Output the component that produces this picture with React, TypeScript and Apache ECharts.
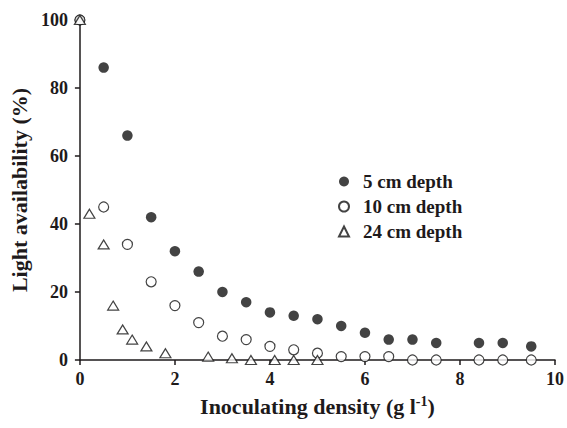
import React, { useEffect, useRef } from "react";
import * as echarts from "echarts";

const density5 = [0, 0.5, 1, 1.5, 2, 2.5, 3, 3.5, 4, 4.5, 5, 5.5, 6, 6.5, 7, 7.5, 8.4, 8.9, 9.5];
const light5 = [100, 86, 66, 42, 32, 26, 20, 17, 14, 13, 12, 10, 8, 6, 6, 5, 5, 5, 4];
const density10 = [0, 0.5, 1, 1.5, 2, 2.5, 3, 3.5, 4, 4.5, 5, 5.5, 6, 6.5, 7, 7.5, 8.4, 8.9, 9.5];
const light10 = [100, 45, 34, 23, 16, 11, 7, 6, 4, 3, 2, 1, 1, 1, 0, 0, 0, 0, 0];
const density24 = [0, 0.2, 0.5, 0.7, 0.9, 1.1, 1.4, 1.8, 2.7, 3.2, 3.6, 4.1, 4.5, 5.0];
const light24 = [100, 43, 34, 16, 9, 6, 4, 2, 1, 0.5, 0, 0, 0, 0];
const seriesNames = ["5 cm depth", "10 cm depth", "24 cm depth"];
const xTitle = "Inoculating density (g l";
const xTitleSup = "-1";
const xTitleEnd = ")";
const yTitle = "Light availability (%)";

const INK = "#1e1a1b";
const FONT = "'Liberation Serif', 'Times New Roman', serif";

const zip = (xs: number[], ys: number[]) => xs.map((x, i) => [x, ys[i]]);

export default function App() {
  const ref = useRef<HTMLDivElement>(null);
  useEffect(() => {
    if (!ref.current) return;
    const chart = echarts.init(ref.current, undefined, { renderer: "svg" });
    const axisCommon = {
      axisLine: { show: true, onZero: false, lineStyle: { color: INK, width: 1.5 } },
      axisTick: { show: true, length: 5, lineStyle: { color: INK, width: 1.5 } },
      splitLine: { show: false },
    };
    chart.setOption({
      animation: false,
      backgroundColor: "#ffffff",
      grid: { left: 77, right: 10, top: 20, bottom: 68, containLabel: false },
      xAxis: {
        type: "value",
        min: 0,
        max: 10,
        interval: 2,
        ...axisCommon,
        axisLabel: { fontFamily: FONT, fontWeight: "bold", fontSize: 18, color: INK, margin: 10 },
        name: `{b|${xTitle}}{sup|${xTitleSup}}{b|${xTitleEnd}}`,
        nameLocation: "middle",
        nameGap: 34,
        nameTextStyle: {
          fontFamily: FONT,
          fontWeight: "bold",
          fontSize: 22,
          color: INK,
          rich: {
            b: { fontFamily: FONT, fontWeight: "bold", fontSize: 22, color: INK, lineHeight: 24 },
            sup: { fontFamily: FONT, fontWeight: "bold", fontSize: 14, color: INK, verticalAlign: "top", lineHeight: 24, padding: [0, 0, 6, 0] },
          },
        },
      },
      yAxis: {
        type: "value",
        min: 0,
        max: 100,
        interval: 20,
        ...axisCommon,
        axisLabel: { fontFamily: FONT, fontWeight: "bold", fontSize: 18, color: INK, margin: 12 },
        name: yTitle,
        nameLocation: "middle",
        nameGap: 40,
        nameTextStyle: { fontFamily: FONT, fontWeight: "bold", fontSize: 22, color: INK },
      },
      legend: {
        orient: "vertical",
        left: 333,
        top: 167,
        itemWidth: 10,
        itemHeight: 10,
        itemGap: 6,
        data: seriesNames,
        textStyle: { fontFamily: FONT, fontWeight: "bold", fontSize: 19, color: INK, padding: [0, 0, 0, 9] },
      },
      series: [
        {
          name: seriesNames[0],
          type: "scatter",
          symbol: "circle",
          symbolSize: 10.5,
          clip: false,
          itemStyle: { color: "#141414" },
          data: zip(density5, light5),
          z: 2,
        },
        {
          name: seriesNames[1],
          type: "scatter",
          symbol: "circle",
          symbolSize: 10,
          clip: false,
          itemStyle: { color: "#ffffff", borderColor: "#141414", borderWidth: 1.2 },
          data: zip(density10, light10),
          z: 3,
        },
        {
          name: seriesNames[2],
          type: "scatter",
          symbol: "triangle",
          symbolSize: [11, 9],
          clip: false,
          itemStyle: { color: "#ffffff", borderColor: "#141414", borderWidth: 1.2 },
          data: zip(density24, light24),
          z: 4,
        },
      ],
    });
    return () => chart.dispose();
  }, []);
  return (
    <div
      ref={ref}
      style={{ position: "fixed", left: 0, top: 0, width: 567, height: 428, background: "#fff" }}
    />
  );
}
